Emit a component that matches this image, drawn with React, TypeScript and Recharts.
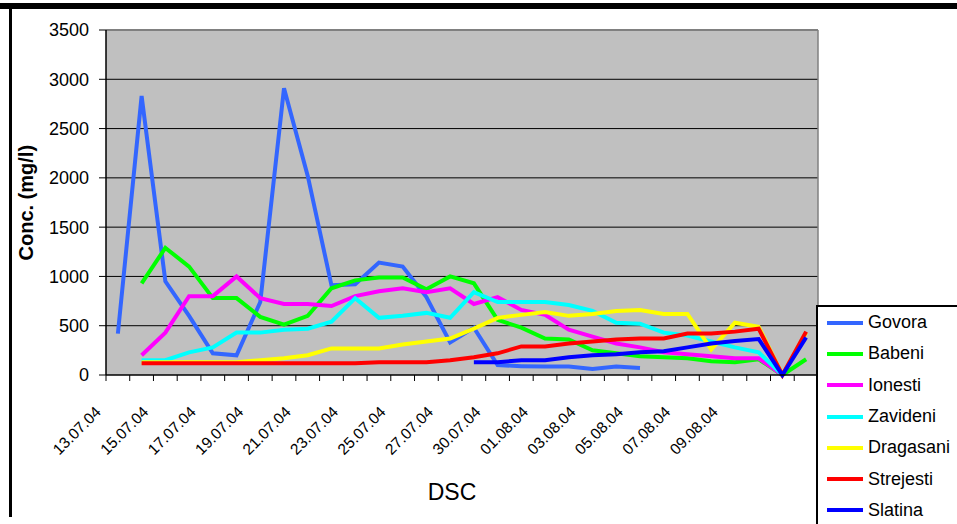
import React from "react";
import {
  LineChart, Line, XAxis, YAxis, CartesianGrid, Legend, ReferenceLine,
} from "recharts";

const W = 957;
const H = 524;
const PLOT_LEFT = 106;
const PLOT_RIGHT = 819;
const PLOT_TOP = 30;
const PLOT_BOTTOM = 375;
const FONT = "'Liberation Sans', Arial, sans-serif";

// sampling days (the two last columns carry no label)
const dates = [
  "13.07.04", "14.07.04", "15.07.04", "16.07.04", "17.07.04", "18.07.04",
  "19.07.04", "20.07.04", "21.07.04", "22.07.04", "23.07.04", "24.07.04",
  "25.07.04", "26.07.04", "27.07.04", "28.07.04", "30.07.04", "31.07.04",
  "01.08.04", "02.08.04", "03.08.04", "04.08.04", "05.08.04", "06.08.04",
  "07.08.04", "08.08.04", "09.08.04", "10.08.04", "", "",
];

const govora = [
  420, 2830, 950, 600, 220, 200, 740, 2910, 2020, 910, 920, 1140, 1100, 790, 330,
  480, 100, 90, 85, 85, 60, 85, 70, null, null, null, null, null, null, null,
];
const babeni = [
  null, 930, 1290, 1100, 780, 780, 590, 510, 600, 880, 960, 990, 990, 870, 1000,
  930, 560, 480, 370, 360, 250, 220, 190, 180, 170, 140, 130, 160, 0, 160,
];
const ionesti = [
  null, 200, 430, 800, 800, 1000, 780, 720, 720, 700, 800, 850, 880, 840, 880,
  720, 790, 660, 610, 460, 390, 320, 280, 230, 210, 190, 170, 170, 0, null,
];
const zavideni = [
  null, 150, 150, 230, 280, 430, 430, 460, 470, 540, 780, 580, 600, 630, 580,
  840, 740, 740, 740, 710, 650, 530, 520, 430, 400, 340, 280, 230, 0, null,
];
const dragasani = [
  null, 130, 130, 130, 130, 130, 150, 170, 200, 270, 270, 270, 310, 340, 370,
  470, 580, 610, 640, 600, 620, 650, 660, 620, 620, 260, 530, 490, 0, 430,
];
const strejesti = [
  null, 120, 120, 120, 120, 120, 120, 120, 120, 120, 120, 130, 130, 130, 150,
  180, 220, 290, 290, 320, 340, 360, 370, 370, 420, 420, 440, 470, 0, 440,
];
const slatina = [
  null, null, null, null, null, null, null, null, null, null, null, null, null, null, null,
  130, 130, 150, 150, 180, 200, 210, 230, 240, 280, 320, 345, 365, 0, 380,
];

const yTicks = [0, 500, 1000, 1500, 2000, 2500, 3000, 3500];

const series = [
  { key: "Govora", values: govora, color: "#3366FF" },
  { key: "Babeni", values: babeni, color: "#00FF00" },
  { key: "Ionesti", values: ionesti, color: "#FF00FF" },
  { key: "Zavideni", values: zavideni, color: "#00FFFF" },
  { key: "Dragasani", values: dragasani, color: "#FFFF00" },
  { key: "Strejesti", values: strejesti, color: "#FF0000" },
  { key: "Slatina", values: slatina, color: "#0000FF" },
];

const rows = dates.map((date, i) => {
  const row: Record<string, string | number | null> = { date };
  series.forEach((s) => { row[s.key] = s.values[i]; });
  return row;
});

const BAND = (PLOT_RIGHT - PLOT_LEFT) / dates.length;

// Excel style: tick marks between categories, labels on every other day
function DateTick(props: any) {
  const { x, y, payload, index } = props;
  const label = payload.value as string;
  const lx = x - 16;
  const ly = y + 38;
  return (
    <g>
      <line x1={x - BAND / 2} x2={x - BAND / 2} y1={y} y2={y + 6} stroke="#000" />
      {index === dates.length - 1 && (
        <line x1={x + BAND / 2} x2={x + BAND / 2} y1={y} y2={y + 6} stroke="#000" />
      )}
      {index % 2 === 0 && label && (
        <text
          x={lx}
          y={ly}
          textAnchor="end"
          fontSize={15.5}
          fontFamily={FONT}
          fill="#000"
          transform={`rotate(-45, ${lx}, ${ly})`}
        >
          {label}
        </text>
      )}
    </g>
  );
}

function LegendBox() {
  return (
    <div
      style={{
        width: 200,
        height: 240,
        background: "#fff",
        border: "2px solid #000",
        boxSizing: "border-box",
        fontFamily: FONT,
        fontSize: 18,
        color: "#000",
      }}
    >
      {series.map((s) => (
        <div key={s.key} style={{ height: 31.3, display: "flex", alignItems: "center" }}>
          <span style={{ width: 36, height: 4, background: s.color, marginLeft: 9, marginRight: 5 }} />
          <span>{s.key}</span>
        </div>
      ))}
    </div>
  );
}

export default function App() {
  return (
    <div style={{ position: "relative", width: W, height: H, overflow: "hidden", background: "#fff" }}>
      <style>{`body{margin:0}`}</style>
      <div style={{ position: "absolute", left: 0, top: 3, width: W, height: 6, background: "#000" }} />
      <div style={{ position: "absolute", left: 9, top: 9, width: 3, height: 508, background: "#000" }} />
      <LineChart
        width={W}
        height={H}
        data={rows}
        margin={{ top: PLOT_TOP, right: W - PLOT_RIGHT, bottom: 0, left: 0 }}
      >
        <CartesianGrid
          vertical={false}
          horizontalValues={[500, 1000, 1500, 2000, 2500, 3000]}
          stroke="#000"
          fill="#C0C0C0"
          fillOpacity={1}
        />
        <XAxis
          dataKey="date"
          interval={0}
          height={H - PLOT_BOTTOM}
          padding={{ left: BAND / 2, right: BAND / 2 }}
          tickLine={false}
          tickSize={0}
          tickMargin={0}
          axisLine={{ stroke: "#000", strokeWidth: 1.5 }}
          tick={<DateTick />}
          label={{
            value: "DSC",
            position: "insideBottom",
            offset: 24,
            dx: -10,
            style: { fontSize: 23, fontFamily: FONT, fill: "#000" },
          }}
        />
        <YAxis
          width={PLOT_LEFT}
          domain={[0, 3500]}
          ticks={yTicks}
          interval={0}
          tickSize={7}
          tickMargin={10}
          tickLine={{ stroke: "#000" }}
          axisLine={{ stroke: "#000", strokeWidth: 1.5 }}
          tick={{ fontSize: 18, fontFamily: FONT, fill: "#000" }}
          label={{
            value: "Conc. (mg/l)",
            angle: -90,
            position: "insideLeft",
            offset: 26,
            dy: 58,
            style: { fontSize: 20, fontWeight: "bold", fontFamily: FONT, fill: "#000" },
          }}
        />
        <YAxis
          yAxisId="frame"
          orientation="right"
          width={1}
          domain={[0, 3500]}
          tick={false}
          tickLine={false}
          axisLine={{ stroke: "#808080", strokeWidth: 1.5 }}
        />
        <ReferenceLine y={3500} stroke="#808080" strokeWidth={2} />
        {series.map((s) => (
          <Line
            key={s.key}
            dataKey={s.key}
            stroke={s.color}
            strokeWidth={4}
            dot={false}
            type="linear"
            isAnimationActive={false}
          />
        ))}
        <Legend
          layout="vertical"
          align="center"
          verticalAlign="middle"
          content={<LegendBox />}
          wrapperStyle={{ left: 816, top: 305, width: 200, height: 240, bottom: "auto", right: "auto" }}
        />
      </LineChart>
    </div>
  );
}
